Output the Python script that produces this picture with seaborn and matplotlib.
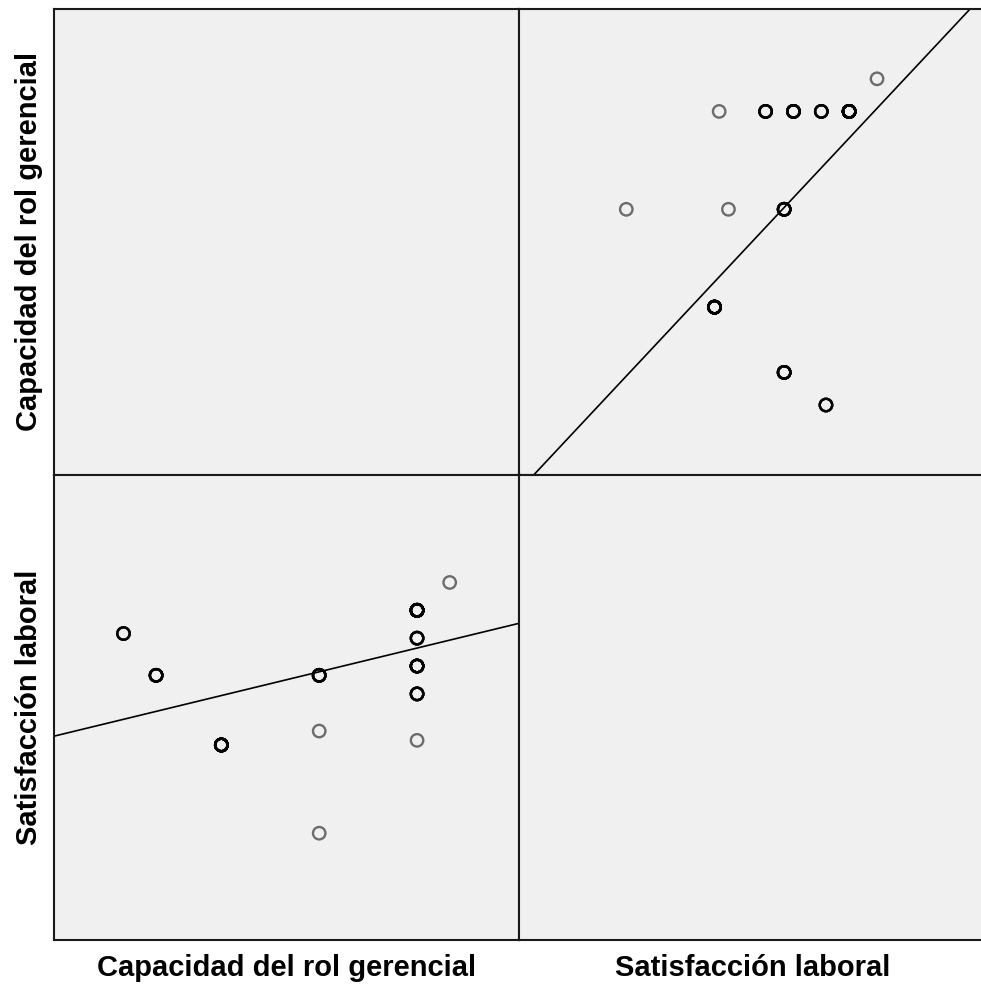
import numpy as np
import pandas as pd
import matplotlib
matplotlib.use("Agg")
import matplotlib.pyplot as plt
import seaborn as sns

# ---- data: distinct value pairs, with case counts ----
cap_values = [20, 21, 23, 26, 26, 26, 29, 29, 29, 29, 29, 30]
sat_values = [83, 74, 59, 74, 62, 40, 88, 82, 76, 70, 60, 94]
counts = [5, 10, 20, 9, 1, 1, 26, 6, 13, 7, 1, 1]

cap_col = "Capacidad del rol gerencial"
sat_col = "Satisfacción laboral"
df = pd.DataFrame({
    cap_col: np.repeat(cap_values, counts),
    sat_col: np.repeat(sat_values, counts),
})

cap_lim = (17.87, 32.14)
sat_lim = (17.0, 117.25)

sns.set_theme(style="white")
plt.rcParams["font.family"] = ["Liberation Sans", "DejaVu Sans"]

g = sns.PairGrid(df, vars=[cap_col, sat_col], despine=False, height=4.9)
g.figure.set_size_inches(9.81, 9.90)
g.axes[1, 0].set_xlim(cap_lim)
g.axes[0, 1].set_ylim(cap_lim)
g.axes[0, 1].set_xlim(sat_lim)
g.axes[1, 0].set_ylim(sat_lim)

g.map_offdiag(
    sns.regplot, ci=None, truncate=False, color="black",
    scatter_kws=dict(s=80, facecolors="none", edgecolors="black", linewidths=1.7, alpha=0.55),
    line_kws=dict(color="black", linewidth=1.2),
)

for ax in g.axes.flat:
    ax.set_facecolor("#f0f0f0")
    ax.set_xticks([])
    ax.set_yticks([])
    ax.set_xlabel("")
    ax.set_ylabel("")
    for sp in ax.spines.values():
        sp.set_visible(True)
        sp.set_color("#1a1a1a")
        sp.set_linewidth(1.5)

lab = dict(fontsize=21, fontweight="bold", color="black")
g.axes[1, 0].set_xlabel(cap_col, labelpad=10, **lab)
g.axes[1, 1].set_xlabel(sat_col, labelpad=10, **lab)
g.axes[0, 0].set_ylabel(cap_col, labelpad=8, **lab)
g.axes[1, 0].set_ylabel(sat_col, labelpad=8, **lab)

g.figure.subplots_adjust(left=54 / 981, right=985 / 981, bottom=50 / 990, top=981 / 990,
                         wspace=0, hspace=0)
g.figure.savefig("out.png", dpi=100)
